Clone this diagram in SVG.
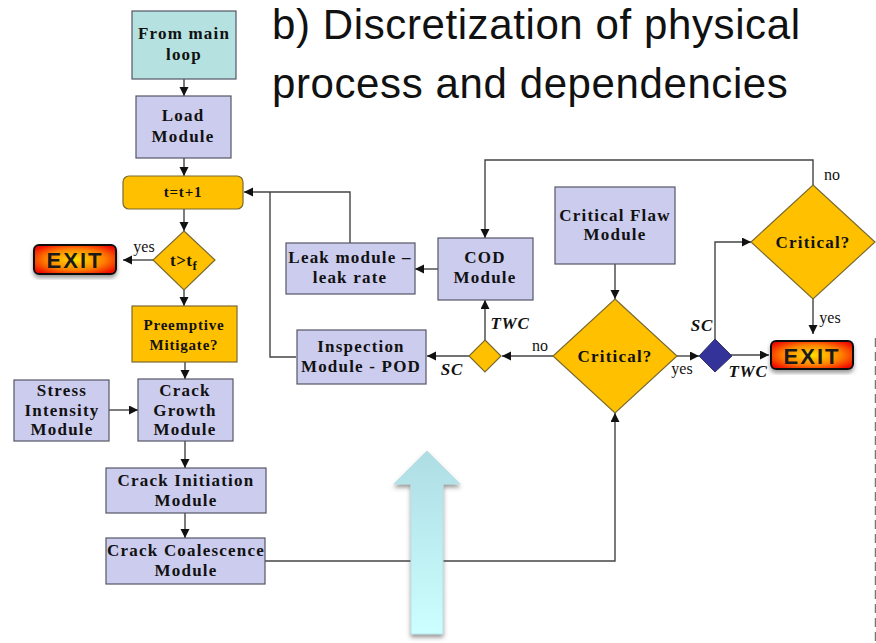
<svg xmlns="http://www.w3.org/2000/svg" width="876" height="643" viewBox="0 0 876 643">
<style>
.m{fill:#ccccee;stroke:#555566;stroke-width:1.2}
.o{fill:#ffc000;stroke:#7a6a30;stroke-width:1.2}
.t{font-family:"Liberation Serif","Times New Roman",serif;font-size:17px;font-weight:bold;letter-spacing:1.2px;fill:#111;text-anchor:middle}
.p{font-family:"Liberation Serif","Times New Roman",serif;font-size:15px;font-weight:bold;letter-spacing:.8px;fill:#111;text-anchor:middle}
.s{font-family:"Liberation Serif","Times New Roman",serif;font-size:16px;fill:#111;text-anchor:middle}
.i{font-family:"Liberation Serif","Times New Roman",serif;font-size:17px;font-weight:bold;font-style:italic;letter-spacing:.8px;fill:#111;text-anchor:middle}
.c{fill:none;stroke:#444;stroke-width:1.4;marker-end:url(#a)}
.l{fill:none;stroke:#444;stroke-width:1.4}
.h{font-family:"Liberation Sans",Arial,sans-serif;font-size:42px;letter-spacing:.6px;fill:#111}
.e{font-family:"Liberation Sans",Arial,sans-serif;font-size:22px;font-weight:bold;fill:#1a1a1a;text-anchor:middle;letter-spacing:2px}
</style>
<defs>
<marker id="a" markerUnits="userSpaceOnUse" markerWidth="10" markerHeight="10" refX="9" refY="4.500" orient="auto"><path d="M0 0L9 4.500L0 9z" fill="#111"/></marker>
<radialGradient id="g" cx=".5" cy=".5" r=".6"><stop offset="0" stop-color="#ffe000"/><stop offset=".6" stop-color="#ff8000"/><stop offset="1" stop-color="#f01000"/></radialGradient>
<linearGradient id="b" x1="0" y1="0" x2="0" y2="1"><stop offset="0" stop-color="#aedde4"/><stop offset="1" stop-color="#ccffff"/></linearGradient>
<filter id="f" x="-20%" y="-20%" width="140%" height="140%"><feDropShadow dx="0" dy="3" stdDeviation="2" flood-color="#555" flood-opacity=".6"/></filter>
</defs>
<text class="h" x="272" y="39">b) Discretization of physical</text>
<text class="h" x="272" y="98">process and dependencies</text>
<g id="connectors">
<path class="c" d="M184 79V96"/>
<path class="c" d="M184 158V176"/>
<path class="c" d="M184 209V231"/>
<path class="c" d="M153 260H123"/>
<path class="c" d="M184 290V306"/>
<path class="c" d="M185 362V379"/>
<path class="c" d="M109 410H138"/>
<path class="c" d="M185 441V468"/>
<path class="c" d="M185 513V538"/>
<path class="c" d="M350 243V192H244"/>
<path class="l" d="M296 357H270V192"/>
<path class="c" d="M438 269H415"/>
<path class="c" d="M485 340V300"/>
<path class="c" d="M469 356H427"/>
<path class="c" d="M553 356H502"/>
<path class="c" d="M615 264V299"/>
<path class="c" d="M677 356H699"/>
<path class="c" d="M715 339V242H751"/>
<path class="c" d="M731 355H769"/>
<path class="c" d="M813 299V334"/>
<path class="c" d="M813 185V160H485V238"/>
<path class="c" d="M265 561H615V413"/>
</g>
<g id="from-main"><rect x="132" y="11" width="104" height="68" fill="#b5e2e0" stroke="#555566" stroke-width="1.2"/><text class="t" x="184" y="39">From main</text><text class="t" x="184" y="60">loop</text></g>
<g id="load"><rect class="m" x="136" y="96" width="95" height="62"/><text class="t" x="183" y="121">Load</text><text class="t" x="183" y="142">Module</text></g>
<g id="time"><rect class="o" x="123" y="176" width="120" height="33" rx="6"/><text class="p" x="183" y="197">t=t+1</text></g>
<g id="tf"><path class="o" d="M184 231L215 260L184 290L153 260z"/><text class="t" x="170" y="266" style="text-anchor:start;letter-spacing:.5px">t&gt;t<tspan font-size="13" dy="4">f</tspan></text></g>
<g id="exit-left"><rect x="34" y="245" width="82" height="29" rx="5" fill="url(#g)" stroke="#111" stroke-width="2" filter="url(#f)"/><text class="e" x="75" y="268">EXIT</text></g>
<text class="s" x="144" y="252">yes</text>
<g id="preempt"><rect class="o" x="132" y="306" width="105" height="56"/><text class="p" x="184" y="330">Preemptive</text><text class="p" x="184" y="350">Mitigate?</text></g>
<g id="stress"><rect class="m" x="14" y="380" width="95" height="61"/><text class="t" x="62" y="396">Stress</text><text class="t" x="62" y="416">Intensity</text><text class="t" x="62" y="435">Module</text></g>
<g id="growth"><rect class="m" x="138" y="379" width="95" height="62"/><text class="t" x="185" y="396">Crack</text><text class="t" x="185" y="416">Growth</text><text class="t" x="185" y="435">Module</text></g>
<g id="init"><rect class="m" x="106" y="468" width="160" height="45"/><text class="t" x="186" y="486">Crack Initiation</text><text class="t" x="186" y="506">Module</text></g>
<g id="coal"><rect class="m" x="106" y="538" width="159" height="46"/><text class="t" x="186" y="556">Crack Coalescence</text><text class="t" x="186" y="576">Module</text></g>
<g id="leak"><rect class="m" x="286" y="243" width="129" height="51"/><text class="t" x="350" y="263">Leak module –</text><text class="t" x="350" y="283">leak rate</text></g>
<g id="cod"><rect class="m" x="438" y="238" width="95" height="62"/><text class="t" x="485" y="263">COD</text><text class="t" x="485" y="283">Module</text></g>
<g id="inspection"><rect class="m" x="297" y="330" width="129" height="54"/><text class="t" x="361" y="352">Inspection</text><text class="t" x="361" y="372">Module - POD</text></g>
<g id="flaw"><rect class="m" x="555" y="187" width="120" height="77"/><text class="t" x="615" y="221">Critical Flaw</text><text class="t" x="615" y="240">Module</text></g>
<g id="d-small"><path class="o" d="M485 340L501 356L485 372L469 356z"/></g>
<g id="critical-1"><path class="o" d="M615 299L677 356L615 413L553 356z"/><text class="t" x="615" y="362">Critical?</text></g>
<g id="d-blue"><path d="M715 339L732 356L715 372L699 356z" fill="#333399" stroke="#333366"/></g>
<g id="critical-2"><path class="o" d="M813 185L875 242L813 299L751 242z"/><text class="t" x="813" y="248">Critical?</text></g>
<g id="exit-right"><rect x="771" y="341" width="82" height="28" rx="5" fill="url(#g)" stroke="#111" stroke-width="2" filter="url(#f)"/><text class="e" x="812" y="364">EXIT</text></g>
<text class="s" x="832" y="180">no</text>
<text class="s" x="830" y="323">yes</text>
<text class="s" x="540" y="351">no</text>
<text class="s" x="682" y="374">yes</text>
<text class="i" x="510" y="329">TWC</text>
<text class="i" x="452" y="375">SC</text>
<text class="i" x="702" y="331">SC</text>
<text class="i" x="748" y="377">TWC</text>
<g id="big-arrow"><path d="M427 451L460 484H443V634H411V484H394z" fill="url(#b)" stroke="#b8dfe6" filter="url(#f)"/></g>
<path d="M875.500 338V643" stroke="#777" stroke-width="1.500" stroke-dasharray="9 5" fill="none"/>
</svg>
